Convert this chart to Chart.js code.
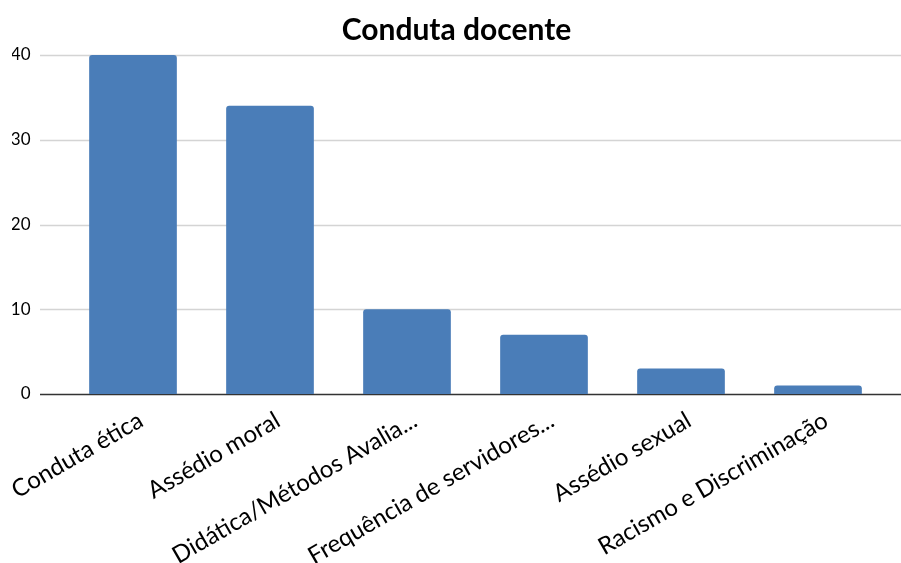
<!DOCTYPE html>
<html>
<head>
<meta charset="utf-8">
<script src="https://cdn.jsdelivr.net/npm/chart.js@4"></script>
<style>
    html, body { margin: 0; padding: 0; background: #fff; }
    #ChartConduta { display: block; }
</style>
</head>
<body>
<canvas id="ChartConduta" width="901" height="563"></canvas>
<script>
const Categorias = ['Conduta ética', 'Assédio moral', 'Didática/Métodos Avalia...', 'Frequência de servidores...', 'Assédio sexual', 'Racismo e Discriminação'];
const Quantidades = [40, 34, 10, 7, 3, 1];
const TicksY = [0, 10, 20, 30, 40];

const Fonte = "Lato, 'Open Sans', sans-serif";

// linhas de grade de ponta a ponta do canvas, como no original
const GradeLarga = {
    id: 'GradeLarga',
    beforeDatasetsDraw(chart) {
        const ctx = chart.ctx;
        const y = chart.scales.y;
        ctx.save();
        y.ticks.forEach((t) => {
            if (t.value === 0) return;
            const py = Math.round(y.getPixelForValue(t.value)) + 0.5;
            ctx.strokeStyle = '#d4d4d4';
            ctx.lineWidth = 1.5;
            ctx.beginPath();
            ctx.moveTo(40, py);
            ctx.lineTo(chart.width, py);
            ctx.stroke();
        });
        const p0 = Math.round(y.getPixelForValue(0)) + 0.5;
        ctx.strokeStyle = '#333333';
        ctx.lineWidth = 1.5;
        ctx.beginPath();
        ctx.moveTo(40, p0);
        ctx.lineTo(chart.width, p0);
        ctx.stroke();
        ctx.restore();
    }
};

var ctxConduta = document.getElementById('ChartConduta');
var ChartConduta = new Chart(ctxConduta, {
    type: 'bar',
    data: {
        labels: Categorias,
        datasets: [{
            label: 'Conduta docente',
            data: Quantidades,
            backgroundColor: '#4a7db8',
            borderRadius: { topLeft: 3, topRight: 3 },
            borderSkipped: 'bottom',
            barPercentage: 0.64,
            categoryPercentage: 1
        }]
    },
    options: {
        responsive: false,
        animation: false,
        layout: {
            padding: { left: 12, right: 0, top: 0, bottom: 0 }
        },
        plugins: {
            legend: { display: false },
            tooltip: { enabled: false },
            title: {
                display: true,
                text: 'Conduta docente',
                color: '#000',
                font: { family: Fonte, size: 30, weight: 'bold' },
                padding: { top: 12, bottom: 7 }
            }
        },
        scales: {
            x: {
                grid: { display: false, drawTicks: false },
                border: { display: false },
                ticks: {
                    color: '#000',
                    font: { family: Fonte, size: 24 },
                    minRotation: 30,
                    maxRotation: 30,
                    autoSkip: false,
                    padding: 12,
                    labelOffset: 8
                },
                afterFit: (axis) => {
                    axis.height = 169;
                    axis.paddingLeft = 0;
                    axis.paddingRight = 14.5;
                }
            },
            y: {
                min: 0,
                max: 40,
                afterBuildTicks: (axis) => {
                    axis.ticks = TicksY.map(v => ({ value: v }));
                },
                grid: { display: false, drawTicks: false },
                border: { display: false },
                ticks: {
                    color: '#000',
                    font: { family: Fonte, size: 17 },
                    padding: 34
                },
                afterFit: (axis) => {
                    axis.width = 52.5;
                }
            }
        }
    },
    plugins: [GradeLarga]
});
</script>
</body>
</html>
